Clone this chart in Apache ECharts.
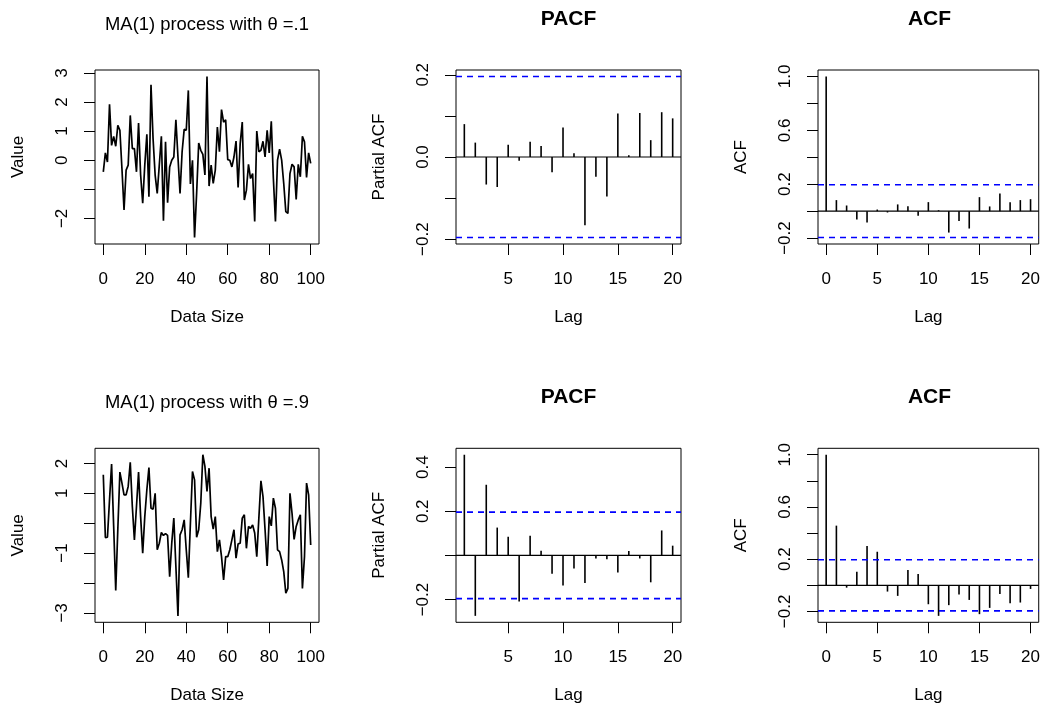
<!DOCTYPE html>
<html>
<head>
<meta charset="utf-8">
<script src="https://cdn.jsdelivr.net/npm/echarts@6/dist/echarts.min.js"></script>
<style>
html,body{margin:0;padding:0;background:#fff;}
#chart{width:1043px;height:710px;}
</style>
</head>
<body>
<div id="chart"></div>
<script>
// ---------------- data ----------------
const seriesTitles = ['MA(1) process with \u03b8 =.1', 'MA(1) process with \u03b8 =.9'];

const ts1 = [-0.40, 0.25, -0.06, 1.92, 0.51, 0.82, 0.48, 1.20, 1.03, -0.30,
 -1.71, -0.34, -0.17, 1.54, 0.40, 0.40, -0.40, 1.28, -0.51, -1.48,
 -0.17, 0.89, -1.26, 2.59, 0.74, -0.51, -1.14, -0.17, 0.82, -2.08,
 0.63, -1.46, -0.23, 0.00, 0.11, 1.39, 0.11, -1.14, 0.29, 1.06,
 1.03, 2.40, -0.82, 0.00, -2.66, -1.14, 0.59, 0.34, 0.20, -0.51,
 2.88, -0.89, -0.17, -0.80, -0.34, 1.14, 0.29, 1.74, 1.31, 1.39,
 0.02, 0.00, -0.23, 0.11, 0.66, -0.94, 0.57, 1.31, -1.37, -1.03,
 -0.14, -0.63, -0.46, -2.11, 1.00, 0.29, 0.34, 0.65, 0.11, 1.03,
 0.25, 1.34, -0.63, -2.11, 0.00, 0.38, 0.00, -0.80, -1.77, -1.83,
 -0.46, -0.14, -0.23, -1.35, -0.14, -0.57, 0.82, 0.63, -0.59, 0.25,
 -0.11];

const ts2 = [1.62, -0.48, -0.47, 0.78, 1.98, -0.10, -2.25, -0.20, 1.71, 1.34,
 0.95, 0.95, 1.23, 2.04, 0.56, -0.56, 0.56, 1.71, 0.22, -1.00,
 0.22, 1.12, 1.86, 0.50, 0.47, 1.00, -0.89, -0.67, -0.31, -0.41,
 -0.35, -0.41, -1.79, -0.67, 0.17, -1.45, -3.10, -0.39, -0.22, 0.11,
 -0.89, -1.82, 0.00, 1.73, 1.45, -0.47, -0.22, 0.67, 2.29, 1.90,
 1.06, 1.84, 0.22, -0.20, 0.22, -0.95, -0.56, -1.12, -1.90, -1.12,
 -1.12, -0.89, -0.56, -0.22, -1.17, -0.69, -0.67, 0.17, 0.28, -0.84,
 -0.11, -0.17, -0.06, -0.33, -1.12, 0.17, 1.42, 0.89, -0.22, -1.43,
 0.22, -0.09, 0.84, 0.50, -0.89, -0.95, -1.23, -1.62, -2.34, -2.18,
 1.00, 0.33, -0.54, -0.11, 0.11, 0.28, -2.18, -1.12, 1.34, 0.95,
 -0.73];

const pacfLags = [1,2,3,4,5,6,7,8,9,10,11,12,13,14,15,16,17,18,19,20];
const pacf1 = [0.080, 0.035, -0.067, -0.073, 0.030, -0.009, 0.037, 0.027, -0.037, 0.072,
 0.009, -0.166, -0.048, -0.096, 0.106, 0.004, 0.107, 0.041, 0.109, 0.094];
const pacf2 = [0.456, -0.274, 0.320, 0.126, 0.084, -0.209, 0.089, 0.021, -0.083, -0.137,
 -0.059, -0.125, -0.014, -0.017, -0.077, 0.020, -0.014, -0.122, 0.113, 0.044];

const acfLags = [0,1,2,3,4,5,6,7,8,9,10,11,12,13,14,15,16,17,18,19,20];
const acf1 = [1.000, 0.082, 0.042, -0.062, -0.084, 0.012, -0.010, 0.050, 0.037, -0.035, 0.067,
 0.007, -0.159, -0.074, -0.129, 0.104, 0.035, 0.131, 0.067, 0.082, 0.089];
const acf2 = [1.000, 0.457, -0.018, 0.104, 0.302, 0.257, -0.048, -0.081, 0.117, 0.086, -0.145,
 -0.234, -0.152, -0.071, -0.112, -0.221, -0.173, -0.066, -0.137, -0.132, -0.028];

const CLIM = 0.196; // 95% confidence bound drawn as dashed lines

// tick positions and which of them carry a label
const tsXTicks = [0, 20, 40, 60, 80, 100];
const pacfXTicks = [5, 10, 15, 20];
const acfXTicks = [0, 5, 10, 15, 20];
const ts1YTicks = [-2, -1, 0, 1, 2, 3];
const ts1YLabels = [-2, 0, 1, 2, 3];
const ts2YTicks = [-3, -2, -1, 0, 1, 2];
const ts2YLabels = [-3, -1, 1, 2];
const pacf1YTicks = [-0.2, -0.1, 0, 0.1, 0.2];
const pacf1YLabels = [-0.2, 0, 0.2];
const pacf2YTicks = [-0.2, 0, 0.2, 0.4];
const pacf2YLabels = [-0.2, 0.2, 0.4];
const acfYTicks = [-0.2, 0, 0.2, 0.4, 0.6, 0.8, 1.0];
const acfYLabels = [-0.2, 0.2, 0.6, 1.0];

// ---------------- layout ----------------
const FONT = 'Liberation Sans, Arial, Helvetica, sans-serif';
const colLeft = [95, 456, 818];
const colWidth = [224, 225, 223];
const rowTop = [70, 448.3];
const rowHeight = 174;

function padRange(lo, hi) { const d = hi - lo; return [lo - 0.04 * d, hi + 0.04 * d]; }
function fmt(dec) {
  return function (v) { return (dec ? Number(v).toFixed(dec) : String(Math.round(v))).replace('-', '\u2212'); };
}

const grids = [], xAxes = [], yAxes = [], series = [], graphics = [];

function addPanel(col, row, kind, xs, ys, xTicks, yTicks, yLabels, dec, xName, yName) {
  const gi = grids.length;
  grids.push({ left: colLeft[col], top: rowTop[row], width: colWidth[col], height: rowHeight,
    show: true, borderColor: '#000', borderWidth: 1, backgroundColor: 'transparent', containLabel: false });
  const xr = padRange(Math.min.apply(null, xs), Math.max.apply(null, xs));
  let ylo = Math.min.apply(null, ys), yhi = Math.max.apply(null, ys);
  if (kind !== 'ts') { ylo = Math.min(ylo, -CLIM); yhi = Math.max(yhi, CLIM); }
  const yr = padRange(ylo, yhi);
  const nameStyle = { fontSize: 17, color: '#000', fontFamily: FONT };
  xAxes.push({ gridIndex: gi, type: 'value', min: xr[0], max: xr[1], splitLine: { show: false },
    axisLine: { show: false, onZero: false },
    axisTick: { show: true, inside: false, length: 11, customValues: xTicks, lineStyle: { color: '#000', width: 1 } },
    axisLabel: { customValues: xTicks, margin: 27, fontSize: 17, color: '#000', fontFamily: FONT, formatter: fmt(0) },
    name: xName, nameLocation: 'middle', nameGap: 65, nameTextStyle: nameStyle });
  yAxes.push({ gridIndex: gi, type: 'value', min: yr[0], max: yr[1], splitLine: { show: false },
    axisLine: { show: false, onZero: false },
    axisTick: { show: true, inside: false, length: 11, customValues: yTicks, lineStyle: { color: '#000', width: 1 } },
    axisLabel: { customValues: yLabels, rotate: 90, margin: 24, fontSize: 17, color: '#000', fontFamily: FONT, formatter: fmt(dec) },
    name: yName, nameLocation: 'middle', nameGap: 68, nameTextStyle: nameStyle });

  if (kind === 'ts') {
    series.push({ type: 'line', xAxisIndex: gi, yAxisIndex: gi, data: xs.map((x, i) => [x, ys[i]]),
      showSymbol: false, symbol: 'none', lineStyle: { color: '#000', width: 1.7 }, animation: false, silent: true });
  } else {
    series.push({ type: 'custom', xAxisIndex: gi, yAxisIndex: gi, data: xs.map((x, i) => [x, ys[i]]),
      animation: false, silent: true,
      renderItem: function (params, api) {
        const x = api.value(0), v = api.value(1);
        const p0 = api.coord([x, 0]), p1 = api.coord([x, v]);
        return { type: 'line', shape: { x1: p0[0], y1: p0[1], x2: p1[0], y2: p1[1] },
          style: { stroke: '#000', lineWidth: 1.6 } };
      } });
    // zero line
    series.push({ type: 'line', xAxisIndex: gi, yAxisIndex: gi, data: [[xr[0], 0], [xr[1], 0]],
      showSymbol: false, symbol: 'none', lineStyle: { color: '#000', width: 1.2 }, animation: false, silent: true });
    [CLIM, -CLIM].forEach(function (c) {
      series.push({ type: 'line', xAxisIndex: gi, yAxisIndex: gi, data: [[xr[0], c], [xr[1], c]],
        showSymbol: false, symbol: 'none', lineStyle: { color: '#0000ff', width: 1.6, type: [6, 5] },
        animation: false, silent: true });
    });
  }
}

function addTitle(col, row, text, bold) {
  const cx = colLeft[col] + colWidth[col] / 2;
  const y = (bold ? 19 : 24.7) + (row ? 378.3 : 0);
  const fs = bold ? 21 : 18.4;
  graphics.push({ type: 'text', x: cx, y: y, silent: true,
    style: { text: text, fill: '#000', fontSize: fs, fontWeight: bold ? 'bold' : 'normal', fontFamily: FONT,
      align: 'center', verticalAlign: 'middle', textAlign: 'center', textVerticalAlign: 'middle' } });
}

const tsX = ts1.map((_, i) => i);

addPanel(0, 0, 'ts', tsX, ts1, tsXTicks, ts1YTicks, ts1YLabels, 0, 'Data Size', 'Value');
addPanel(1, 0, 'pacf', pacfLags, pacf1, pacfXTicks, pacf1YTicks, pacf1YLabels, 1, 'Lag', 'Partial ACF');
addPanel(2, 0, 'acf', acfLags, acf1, acfXTicks, acfYTicks, acfYLabels, 1, 'Lag', 'ACF');
addPanel(0, 1, 'ts', tsX, ts2, tsXTicks, ts2YTicks, ts2YLabels, 0, 'Data Size', 'Value');
addPanel(1, 1, 'pacf', pacfLags, pacf2, pacfXTicks, pacf2YTicks, pacf2YLabels, 1, 'Lag', 'Partial ACF');
addPanel(2, 1, 'acf', acfLags, acf2, acfXTicks, acfYTicks, acfYLabels, 1, 'Lag', 'ACF');

addTitle(0, 0, seriesTitles[0], false);
addTitle(1, 0, 'PACF', true);
addTitle(2, 0, 'ACF', true);
addTitle(0, 1, seriesTitles[1], false);
addTitle(1, 1, 'PACF', true);
addTitle(2, 1, 'ACF', true);

const chart = echarts.init(document.getElementById('chart'), null, { renderer: 'canvas' });
chart.setOption({
  backgroundColor: '#fff',
  animation: false,
  grid: grids,
  xAxis: xAxes,
  yAxis: yAxes,
  series: series,
  graphic: graphics
});
</script>
</body>
</html>
